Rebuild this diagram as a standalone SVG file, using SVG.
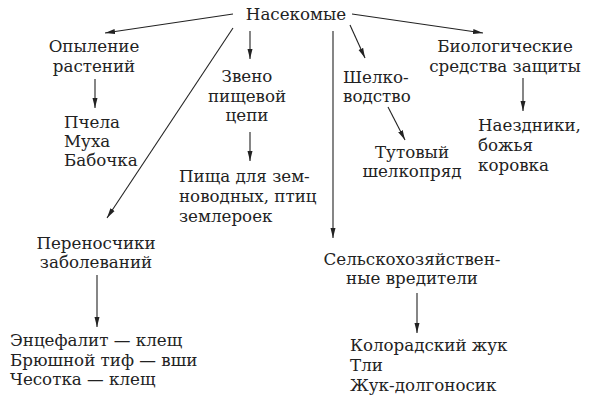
<svg xmlns="http://www.w3.org/2000/svg" width="589" height="411" viewBox="0 0 589 411">
<style>
text{font-family:"DejaVu Serif","Liberation Serif",serif;font-size:16.7px;fill:#222}
.c{text-anchor:middle}
.e line{stroke:#222;stroke-width:1.1;fill:none}
</style>
<defs>
<marker id="a" markerWidth="10" markerHeight="6" refX="10" refY="3" orient="auto" markerUnits="userSpaceOnUse">
<path d="M0,0.5 L10,3 L0,5.5 Z" fill="#222"/>
</marker>
</defs>
<rect width="589" height="411" fill="#fff"/>
<g class="e" id="connectors">
<line x1="233" y1="14" x2="105" y2="33" marker-end="url(#a)"/>
<line x1="352" y1="14" x2="483" y2="33" marker-end="url(#a)"/>
<line x1="233" y1="28" x2="107" y2="218" marker-end="url(#a)"/>
<line x1="250" y1="31" x2="250" y2="59" marker-end="url(#a)"/>
<line x1="333" y1="31" x2="333" y2="238" marker-end="url(#a)"/>
<line x1="350" y1="25" x2="365" y2="58" marker-end="url(#a)"/>
<line x1="95" y1="79" x2="95" y2="108" marker-end="url(#a)"/>
<line x1="250" y1="132" x2="250" y2="161" marker-end="url(#a)"/>
<line x1="388" y1="107" x2="405" y2="140" marker-end="url(#a)"/>
<line x1="523" y1="78" x2="523" y2="111" marker-end="url(#a)"/>
<line x1="97" y1="275" x2="97" y2="327" marker-end="url(#a)"/>
<line x1="417" y1="293" x2="417" y2="333" marker-end="url(#a)"/>
</g>
<g id="root"><text class="c" x="296" y="20">Насекомые</text></g>
<g id="pollination"><text class="c" x="94" y="52">Опыление</text><text class="c" x="94" y="72">растений</text></g>
<g id="pollinators"><text x="64" y="128">Пчела</text><text x="64" y="147">Муха</text><text x="64" y="166">Бабочка</text></g>
<g id="foodchain"><text class="c" x="247" y="82">Звено</text><text class="c" x="247" y="102">пищевой</text><text class="c" x="247" y="121">цепи</text></g>
<g id="food"><text x="179" y="182">Пища для зем-</text><text x="179" y="202">новодных, птиц</text><text x="179" y="222">землероек</text></g>
<g id="vectors"><text class="c" x="96" y="249">Переносчики</text><text class="c" x="96" y="268">заболеваний</text></g>
<g id="diseases"><text x="10" y="346">Энцефалит — клещ</text><text x="10" y="366">Брюшной тиф — вши</text><text x="10" y="385">Чесотка — клещ</text></g>
<g id="silk"><text x="343" y="83">Шелко-</text><text x="343" y="102">водство</text></g>
<g id="silkworm"><text class="c" x="412" y="158">Тутовый</text><text class="c" x="412" y="177">шелкопряд</text></g>
<g id="bio"><text class="c" x="505" y="52">Биологические</text><text class="c" x="505" y="72">средства защиты</text></g>
<g id="biolist"><text x="478" y="131">Наездники,</text><text x="478" y="151">божья</text><text x="478" y="171">коровка</text></g>
<g id="pests"><text class="c" x="412" y="265">Сельскохозяйствен-</text><text class="c" x="412" y="284">ные вредители</text></g>
<g id="pestlist"><text x="350" y="351">Колорадский жук</text><text x="350" y="371">Тли</text><text x="350" y="391">Жук-долгоносик</text></g>
</svg>
